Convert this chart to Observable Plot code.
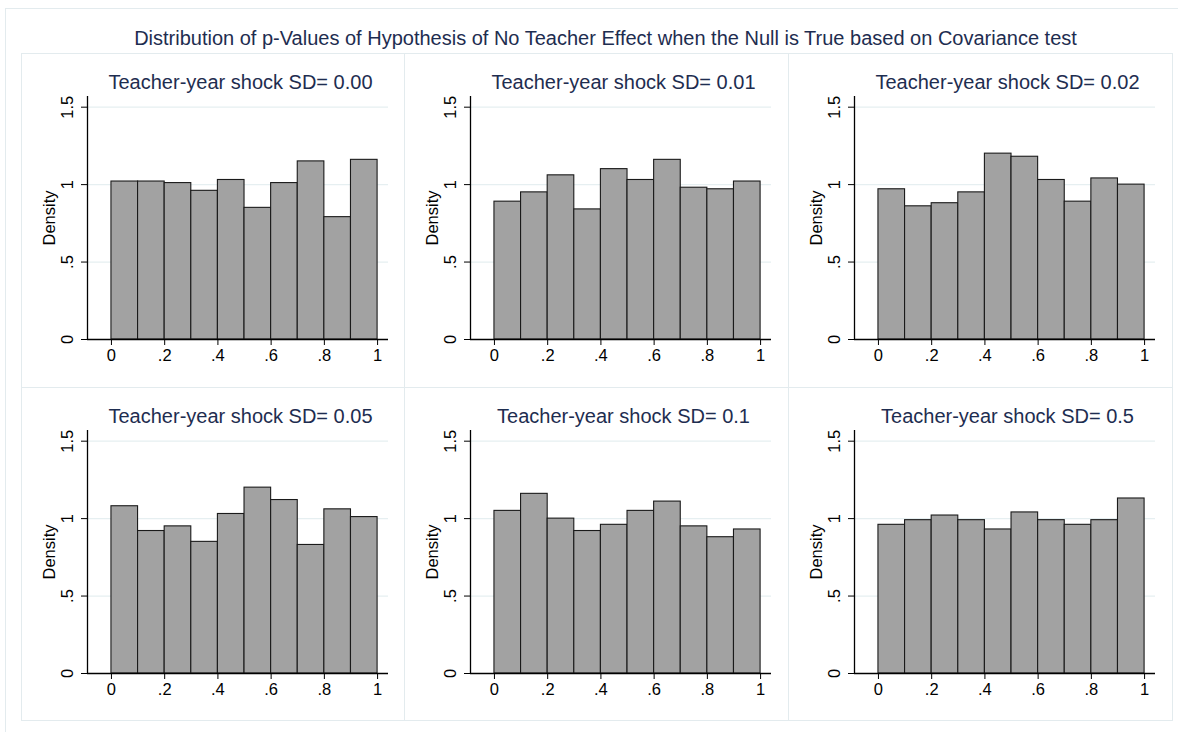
<!DOCTYPE html>
<html>
<head>
<meta charset="utf-8">
<script src="https://cdn.jsdelivr.net/npm/d3@7"></script>
<script src="https://cdn.jsdelivr.net/npm/@observablehq/plot@0.6"></script>
<style>
  html, body { margin: 0; padding: 0; background: #ffffff; }
  #root { position: relative; width: 1178px; height: 732px; overflow: hidden; background: #ffffff;
          font-family: "Liberation Sans", Arial, sans-serif; }
  .outer { position: absolute; left: 4.5px; top: 7.5px; width: 1190px; height: 740px;
           border: 1px solid #e3ebee; box-sizing: border-box; }
  .panelbox { position: absolute; border: 1px solid #e3ebee; box-sizing: border-box; }
  .maintitle { position: absolute; top: 28px; left: 0; width: 1211px; text-align: center;
               font-size: 20px; line-height: 20px; color: #1e2d50; white-space: nowrap; }
  .ptitle { position: absolute; top: 19px; left: 0; width: 439px; text-align: center;
            font-size: 20px; line-height: 20px; color: #1e2d50; white-space: nowrap; }
  .plotwrap { position: absolute; }
  .plotwrap svg { overflow: visible; }
</style>
</head>
<body>
<div id="root">
  <div class="outer"></div>
  <div class="maintitle" id="maintitle"></div>
</div>
<script>
// ---- data ----
const mainTitle = "Distribution of p-Values of Hypothesis of No Teacher Effect when the Null is True based on Covariance test";
const panelTitles = [
  "Teacher-year shock SD= 0.00",
  "Teacher-year shock SD= 0.01",
  "Teacher-year shock SD= 0.02",
  "Teacher-year shock SD= 0.05",
  "Teacher-year shock SD= 0.1",
  "Teacher-year shock SD= 0.5"
];
const binEdges = [0, 0.1, 0.2, 0.3, 0.4, 0.5, 0.6, 0.7, 0.8, 0.9, 1.0];
const densitySD000 = [1.02, 1.02, 1.01, 0.96, 1.03, 0.85, 1.01, 1.15, 0.79, 1.16];
const densitySD001 = [0.89, 0.95, 1.06, 0.84, 1.10, 1.03, 1.16, 0.98, 0.97, 1.02];
const densitySD002 = [0.97, 0.86, 0.88, 0.95, 1.20, 1.18, 1.03, 0.89, 1.04, 1.00];
const densitySD005 = [1.08, 0.92, 0.95, 0.85, 1.03, 1.20, 1.12, 0.83, 1.06, 1.01];
const densitySD010 = [1.05, 1.16, 1.00, 0.92, 0.96, 1.05, 1.11, 0.95, 0.88, 0.93];
const densitySD050 = [0.96, 0.99, 1.02, 0.99, 0.93, 1.04, 0.99, 0.96, 0.99, 1.13];
const panelSeries = [densitySD000, densitySD001, densitySD002, densitySD005, densitySD010, densitySD050];

const xTicks = [0, 0.2, 0.4, 0.6, 0.8, 1];
const xTickLabels = ["0", ".2", ".4", ".6", ".8", "1"];
const yTicks = [0, 0.5, 1, 1.5];
const yTickLabels = ["0", ".5", "1", "1.5"];
const yAxisLabel = "Density";

// scale extents (Stata plot-region margins)
const xDomain = [-0.09, 1.041];
const yDomain = [0, 1.569];

// ---- layout ----
const colLefts = [21, 404, 788];
const colWidths = [383, 384, 383.5];
const rowTops = [53, 387];
const rowHeights = [334, 333];

const root = document.getElementById("root");
document.getElementById("maintitle").textContent = mainTitle;

panelSeries.forEach((values, i) => {
  const col = i % 3, row = Math.floor(i / 3);
  const left = colLefts[col], top = rowTops[row];

  const box = document.createElement("div");
  box.className = "panelbox";
  box.style.left = left + "px";
  box.style.top = top + "px";
  box.style.width = (colWidths[col] + 1) + "px";
  box.style.height = (rowHeights[row] + 1) + "px";
  root.appendChild(box);

  const bins = values.map((v, k) => ({x1: binEdges[k], x2: binEdges[k + 1], density: v}));

  const chart = Plot.plot({
    width: 384,
    height: 334,
    marginLeft: 66,
    marginRight: 17,
    marginTop: 43,
    marginBottom: 48,
    style: {background: "transparent", fontFamily: "Liberation Sans, Arial, sans-serif", fontSize: "16.5px", color: "#000", overflow: "visible"},
    x: {domain: xDomain, ticks: xTicks, tickFormat: d => xTickLabels[xTicks.indexOf(d)], tickSize: 6, tickPadding: 4, label: null},
    y: {domain: yDomain, ticks: yTicks, tickFormat: () => "", tickSize: 6, tickPadding: 0, label: null},
    marks: [
      Plot.ruleY(yTicks.filter(d => d > 0), {stroke: "#e6eff1", strokeWidth: 1.2}),
      Plot.rectY(bins, {x1: "x1", x2: "x2", y: "density", fill: "#a2a2a2", stroke: "#1a1a1a", strokeWidth: 1.1, inset: 0}),
      Plot.ruleY(yTicks.slice(0, 1), {stroke: "#000", strokeWidth: 1.3}),
      Plot.ruleX(xDomain.slice(0, 1), {stroke: "#000", strokeWidth: 1.3}),
      Plot.text(yTicks, {x: () => xDomain[0], y: d => d, text: d => yTickLabels[yTicks.indexOf(d)], rotate: -90, dx: -20, fontSize: 16.5, textAnchor: "middle", lineAnchor: "middle", fill: "#000"}),
      Plot.text([yAxisLabel], {frameAnchor: "left", text: d => d, rotate: -90, dx: -38, fontSize: 16.5, textAnchor: "middle", lineAnchor: "middle", fill: "#000"})
    ]
  });

  d3.select(chart).selectAll("text")
    .style("font-size", "16.5px")
    .style("font-family", "'Liberation Sans', Arial, sans-serif")
    .style("fill", "#000");

  const wrap = document.createElement("div");
  wrap.className = "plotwrap";
  wrap.style.left = left + "px";
  wrap.style.top = top + "px";
  wrap.appendChild(chart);
  root.appendChild(wrap);

  const t = document.createElement("div");
  t.className = "ptitle";
  t.textContent = panelTitles[i];
  wrap.appendChild(t);
});
</script>
</body>
</html>
